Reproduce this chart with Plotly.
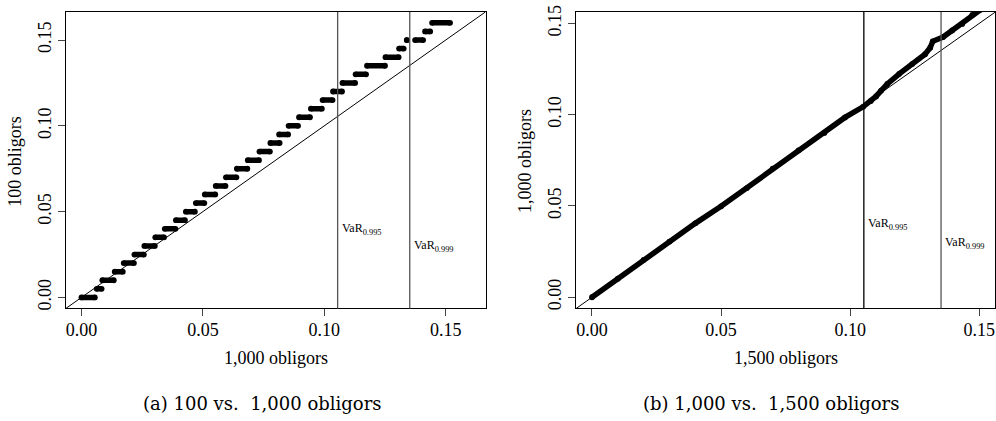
import plotly.graph_objects as go

# ---------------- data ----------------
# Panel (a): 100 obligors (y) vs 1,000 obligors (x) — stepped quantiles
step_level = [0.000, 0.005, 0.010, 0.015, 0.020, 0.025, 0.030, 0.035, 0.040, 0.045,
              0.050, 0.055, 0.060, 0.065, 0.070, 0.075, 0.080, 0.085, 0.090, 0.095,
              0.100, 0.105, 0.110, 0.115, 0.120, 0.125, 0.130, 0.135, 0.140, 0.145,
              0.150, 0.150, 0.155, 0.160]
step_x_lo = [0.0000, 0.0063, 0.0086, 0.0137, 0.0174, 0.0218, 0.0259, 0.0304, 0.0343, 0.0389,
             0.0430, 0.0471, 0.0508, 0.0553, 0.0595, 0.0640, 0.0685, 0.0733, 0.0778, 0.0814,
             0.0853, 0.0896, 0.0945, 0.0993, 0.1036, 0.1075, 0.1129, 0.1176, 0.1252, 0.1308,
             0.1340, 0.1374, 0.1415, 0.1444]
step_x_hi = [0.0055, 0.0083, 0.0133, 0.0170, 0.0216, 0.0257, 0.0302, 0.0340, 0.0387, 0.0426,
             0.0467, 0.0506, 0.0551, 0.0593, 0.0638, 0.0683, 0.0731, 0.0776, 0.0816, 0.0851,
             0.0892, 0.0941, 0.0990, 0.1034, 0.1073, 0.1127, 0.1172, 0.1250, 0.1306, 0.1327,
             0.1340, 0.1407, 0.1436, 0.1518]

# Panel (b): 1,000 obligors (y) vs 1,500 obligors (x)
qq_b_x = [0.000, 0.010, 0.020, 0.030, 0.040, 0.050, 0.060, 0.070, 0.080, 0.090,
          0.098, 0.105, 0.108, 0.110, 0.112, 0.1144, 0.119, 0.124, 0.129, 0.131, 0.132,
          0.136, 0.1395, 0.1434, 0.1473, 0.1505]
qq_b_y = [0.000, 0.0102, 0.0205, 0.0305, 0.0405, 0.0498, 0.0598, 0.0705, 0.0805, 0.0900,
          0.0985, 0.1043, 0.1075, 0.1100, 0.1132, 0.1168, 0.1224, 0.1277, 0.1331, 0.1367, 0.1402,
          0.1425, 0.1461, 0.1497, 0.1546, 0.1575]

var_values_a = [0.1055, 0.1352]
var_values_b = [0.1053, 0.1352]
var_labels = ["VaR<sub>0.995</sub>", "VaR<sub>0.999</sub>"]
var_label_y = [0.040, 0.030]

tick_vals = [0.00, 0.05, 0.10, 0.15]
tick_text = ["0.00", "0.05", "0.10", "0.15"]

range_a = [-0.0064, 0.1664]
range_b_x = [-0.0063, 0.1561]
range_b_y = [-0.0061, 0.1563]

W, H = 996, 421
SERIF = "Liberation Serif"
CAP_FONT = "DejaVu Serif"

fig = go.Figure()

# ---- panel (a) steps ----
seg_x, seg_y, end_x, end_y = [], [], [], []
for lv, lo, hi in zip(step_level, step_x_lo, step_x_hi):
    seg_x += [lo, hi, None]
    seg_y += [lv, lv, None]
    end_x += [lo, hi]
    end_y += [lv, lv]
fig.add_trace(go.Scatter(x=seg_x, y=seg_y, mode="lines",
                         line=dict(color="black", width=5.5),
                         xaxis="x", yaxis="y", showlegend=False, hoverinfo="skip"))
fig.add_trace(go.Scatter(x=end_x, y=end_y, mode="markers",
                         marker=dict(color="black", size=5.8),
                         xaxis="x", yaxis="y", showlegend=False))

# ---- panel (b) curve ----
fig.add_trace(go.Scatter(x=qq_b_x, y=qq_b_y, mode="lines+markers",
                         line=dict(color="black", width=5.5),
                         marker=dict(color="black", size=5.8),
                         xaxis="x2", yaxis="y2", showlegend=False, cliponaxis=True))

# ---- axes ----
ydom = [(H - 308) / H, (H - 5) / H]
common = dict(tickvals=tick_vals, ticktext=tick_text, ticks="outside", ticklen=7,
              tickcolor="#444", tickwidth=1, showline=True, linecolor="black", linewidth=1,
              mirror=True, showgrid=False, zeroline=False, ticklabeloverflow="allow",
              tickfont=dict(family=SERIF, size=18, color="black"))
fig.update_layout(
    width=W, height=H, margin=dict(l=0, r=0, t=0, b=0),
    paper_bgcolor="white", plot_bgcolor="white", showlegend=False,
    font=dict(family=SERIF),
    xaxis=dict(domain=[66 / W, 486 / W], range=range_a, anchor="y",
               ticklabelstandoff=-2, **common),
    yaxis=dict(domain=ydom, range=range_a, anchor="x", tickangle=-90, **common),
    xaxis2=dict(domain=[576.3 / W, 1.0], range=range_b_x, anchor="y2",
                ticklabelstandoff=-2, **common),
    yaxis2=dict(domain=ydom, range=range_b_y, anchor="x2", tickangle=-90, **common),
)

# ---- diagonals ----
fig.add_shape(type="line", xref="x", yref="y", x0=range_a[0], y0=range_a[0],
              x1=range_a[1], y1=range_a[1], line=dict(color="black", width=1))
fig.add_shape(type="line", xref="x2", yref="y2", x0=range_b_y[0], y0=range_b_y[0],
              x1=range_b_y[1], y1=range_b_y[1], line=dict(color="black", width=1))

# ---- VaR lines & labels ----
for v, col in zip(var_values_a, ["#555", "#555"]):
    fig.add_shape(type="line", xref="x", yref="y domain", x0=v, x1=v, y0=0, y1=1,
                  line=dict(color=col, width=1.3))
for v, col in zip(var_values_b, ["black", "#555"]):
    fig.add_shape(type="line", xref="x2", yref="y2 domain", x0=v, x1=v, y0=0, y1=1,
                  line=dict(color=col, width=1.3))
for v, lab, ly in zip(var_values_a, var_labels, var_label_y):
    fig.add_annotation(x=v, y=ly, xref="x", yref="y", text=lab, showarrow=False,
                       xanchor="left", xshift=2, font=dict(family=SERIF, size=12, color="black"))
for v, lab, ly in zip(var_values_b, var_labels, var_label_y):
    fig.add_annotation(x=v, y=ly, xref="x2", yref="y2", text=lab, showarrow=False,
                       xanchor="left", xshift=2, font=dict(family=SERIF, size=12, color="black"))

# ---- axis titles ----
def ann(x, y, text, size, family, angle=0):
    fig.add_annotation(x=x / W, y=1 - y / H, xref="paper", yref="paper", text=text,
                       showarrow=False, xanchor="center", yanchor="middle", textangle=angle,
                       font=dict(family=family, size=size, color="black"))

ann(276.7, 359, "1,000 obligors", 18, SERIF)
ann(15, 157, "100 obligors", 18, SERIF, -90)
ann(786.7, 359, "1,500 obligors", 18, SERIF)
ann(525, 157, "1,000 obligors", 18, SERIF, -90)

# ---- sub-captions ----
ann(262, 405, "(a) 100 vs.\u00a0 1,000 obligors", 18, CAP_FONT)
ann(772, 405, "(b) 1,000 vs.\u00a0 1,500 obligors", 18, CAP_FONT)

fig.write_html("out.html")
